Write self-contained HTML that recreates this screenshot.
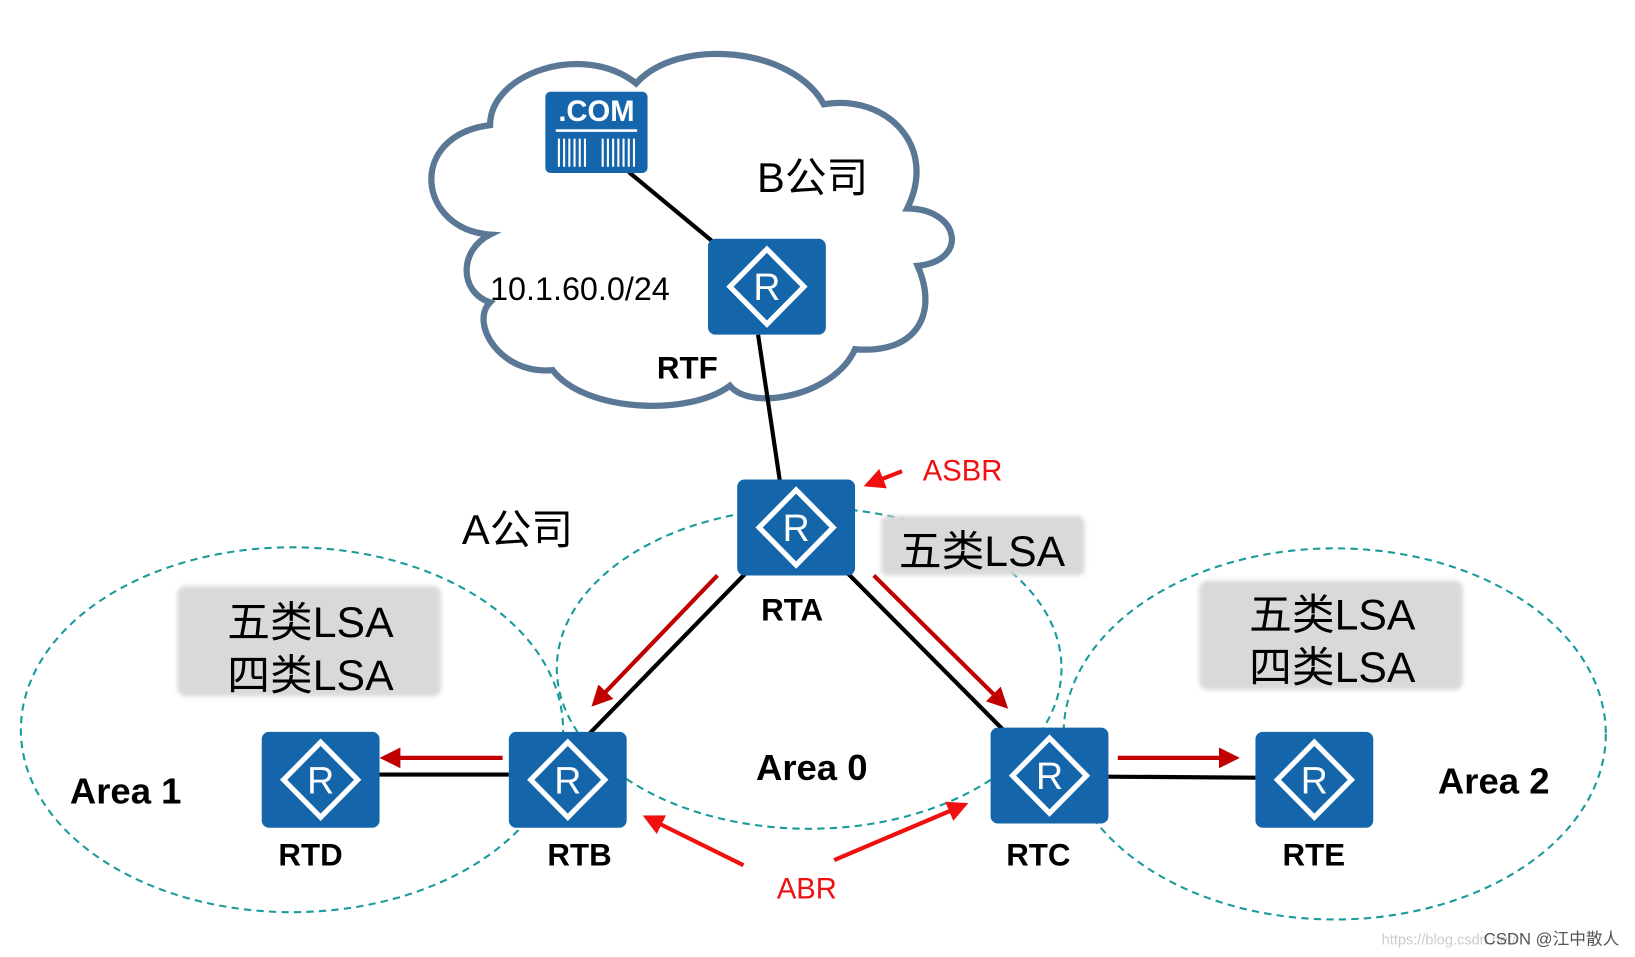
<!DOCTYPE html>
<html><head><meta charset="utf-8"><style>
html,body{margin:0;padding:0;background:#fff;width:1635px;height:957px;overflow:hidden}
svg{display:block}
text{font-family:"Liberation Sans","Noto Sans CJK SC",sans-serif}
</style></head><body>
<svg width="1635" height="957" viewBox="0 0 1568 918" preserveAspectRatio="none" xmlns="http://www.w3.org/2000/svg">
<defs>
<g id="r">
<rect x="0" y="0" width="113" height="92" rx="7" fill="#1565ab"/>
<polygon points="56.5,10 92,46 56.5,82 21,46" fill="none" stroke="#fff" stroke-width="5"/>
<text x="56.5" y="59" font-size="36" fill="#fff" text-anchor="middle">R</text>
</g>
<filter id="bl"><feGaussianBlur stdDeviation="2"/></filter>
<marker id="ad" markerWidth="5" markerHeight="5" refX="4" refY="2.5" orient="auto" markerUnits="strokeWidth"><path d="M0,0 L5,2.5 L0,5z" fill="#c00000"/></marker>
<marker id="ar" markerWidth="5" markerHeight="5" refX="4" refY="2.5" orient="auto" markerUnits="strokeWidth"><path d="M0,0 L5,2.5 L0,5z" fill="#f01010"/></marker>
</defs>
<path d="M470,225 C400,220 390,130 470,120 C470,70 560,40 610,80 C650,35 760,45 790,100 C850,90 900,140 870,200 C920,200 930,250 880,255 C900,300 880,340 820,335 C800,380 720,395 700,370 C660,400 560,395 530,355 C480,360 450,310 470,290 C440,280 440,240 470,225 Z" fill="#fff" stroke="#5a7896" stroke-width="6"/>
<g fill="none" stroke="#1a9a9a" stroke-width="2" stroke-dasharray="7,5">
<ellipse cx="280" cy="700" rx="260" ry="175"/>
<ellipse cx="776" cy="641" rx="242" ry="154"/>
<ellipse cx="1280" cy="704" rx="260" ry="178"/>
</g>
<g fill="#d9d9d9" filter="url(#bl)">
<rect x="170" y="562" width="253" height="106" rx="8"/>
<rect x="845" y="495" width="195" height="57" rx="6"/>
<rect x="1150" y="557" width="253" height="105" rx="8"/>
</g>
<g stroke="#000" stroke-width="4">
<line x1="603" y1="165" x2="685" y2="233"/>
<line x1="727" y1="321" x2="748" y2="462"/>
<line x1="715" y1="550" x2="565" y2="704"/>
<line x1="811" y1="548" x2="962" y2="700"/>
<line x1="364" y1="743" x2="488" y2="743"/>
<line x1="1063" y1="745" x2="1204" y2="746"/>
</g>
<rect x="523" y="88" width="98" height="78" rx="5" fill="#1565ab"/>
<text x="572" y="116" font-size="28" font-weight="bold" fill="#fff" text-anchor="middle">.COM</text>
<rect x="533" y="124" width="78" height="2.5" fill="#fff"/>
<g stroke="#fff" stroke-width="2">
<path d="M536,133V160M541,133V160M546,133V160M551,133V160M556,133V160M561,133V160M578,133V160M583,133V160M588,133V160M593,133V160M598,133V160M603,133V160M608,133V160"/>
</g>
<use href="#r" x="679" y="229"/>
<use href="#r" x="707" y="460"/>
<use href="#r" x="251" y="702"/>
<use href="#r" x="488" y="702"/>
<use href="#r" x="950" y="698"/>
<use href="#r" x="1204" y="702"/>
<g stroke="#c00000" stroke-width="4" fill="none">
<line x1="688" y1="552" x2="570" y2="675" marker-end="url(#ad)"/>
<line x1="838" y1="552" x2="964" y2="677" marker-end="url(#ad)"/>
<line x1="482" y1="727" x2="368" y2="727" marker-end="url(#ad)"/>
<line x1="1072" y1="727" x2="1185" y2="727" marker-end="url(#ad)"/>
</g>
<g stroke="#f01010" stroke-width="4" fill="none">
<line x1="865" y1="452" x2="832" y2="465" marker-end="url(#ar)"/>
<line x1="713" y1="830" x2="620" y2="784" marker-end="url(#ar)"/>
<line x1="800" y1="825" x2="925" y2="772" marker-end="url(#ar)"/>
</g>
<g fill="#000">
<text x="726" y="184" font-size="40">B公司</text>
<text x="470" y="288" font-size="31">10.1.60.0/24</text>
<text x="443" y="522" font-size="40">A公司</text>
<text x="862" y="543" font-size="41">五类LSA</text>
<text x="218" y="611" font-size="41">五类LSA</text>
<text x="218" y="662" font-size="41">四类LSA</text>
<text x="1198" y="604" font-size="41">五类LSA</text>
<text x="1198" y="654" font-size="41">四类LSA</text>
</g>
<g fill="#000" font-weight="bold">
<text x="630" y="363" font-size="30">RTF</text>
<text x="730" y="595" font-size="30">RTA</text>
<text x="725" y="748" font-size="35">Area 0</text>
<text x="67" y="771" font-size="35">Area 1</text>
<text x="1379" y="761" font-size="35">Area 2</text>
<text x="267" y="830" font-size="30">RTD</text>
<text x="525" y="830" font-size="30">RTB</text>
<text x="965" y="830" font-size="30">RTC</text>
<text x="1230" y="830" font-size="30">RTE</text>
</g>
<g fill="#f01010" font-size="28">
<text x="885" y="461">ASBR</text>
<text x="745" y="862">ABR</text>
</g>
<text x="1325" y="906" font-size="14" fill="#ccc">https://blog.csdn.net/</text>
<text x="1423" y="906" font-size="16" fill="#555">CSDN @江中散人</text>
</svg>
</body></html>
